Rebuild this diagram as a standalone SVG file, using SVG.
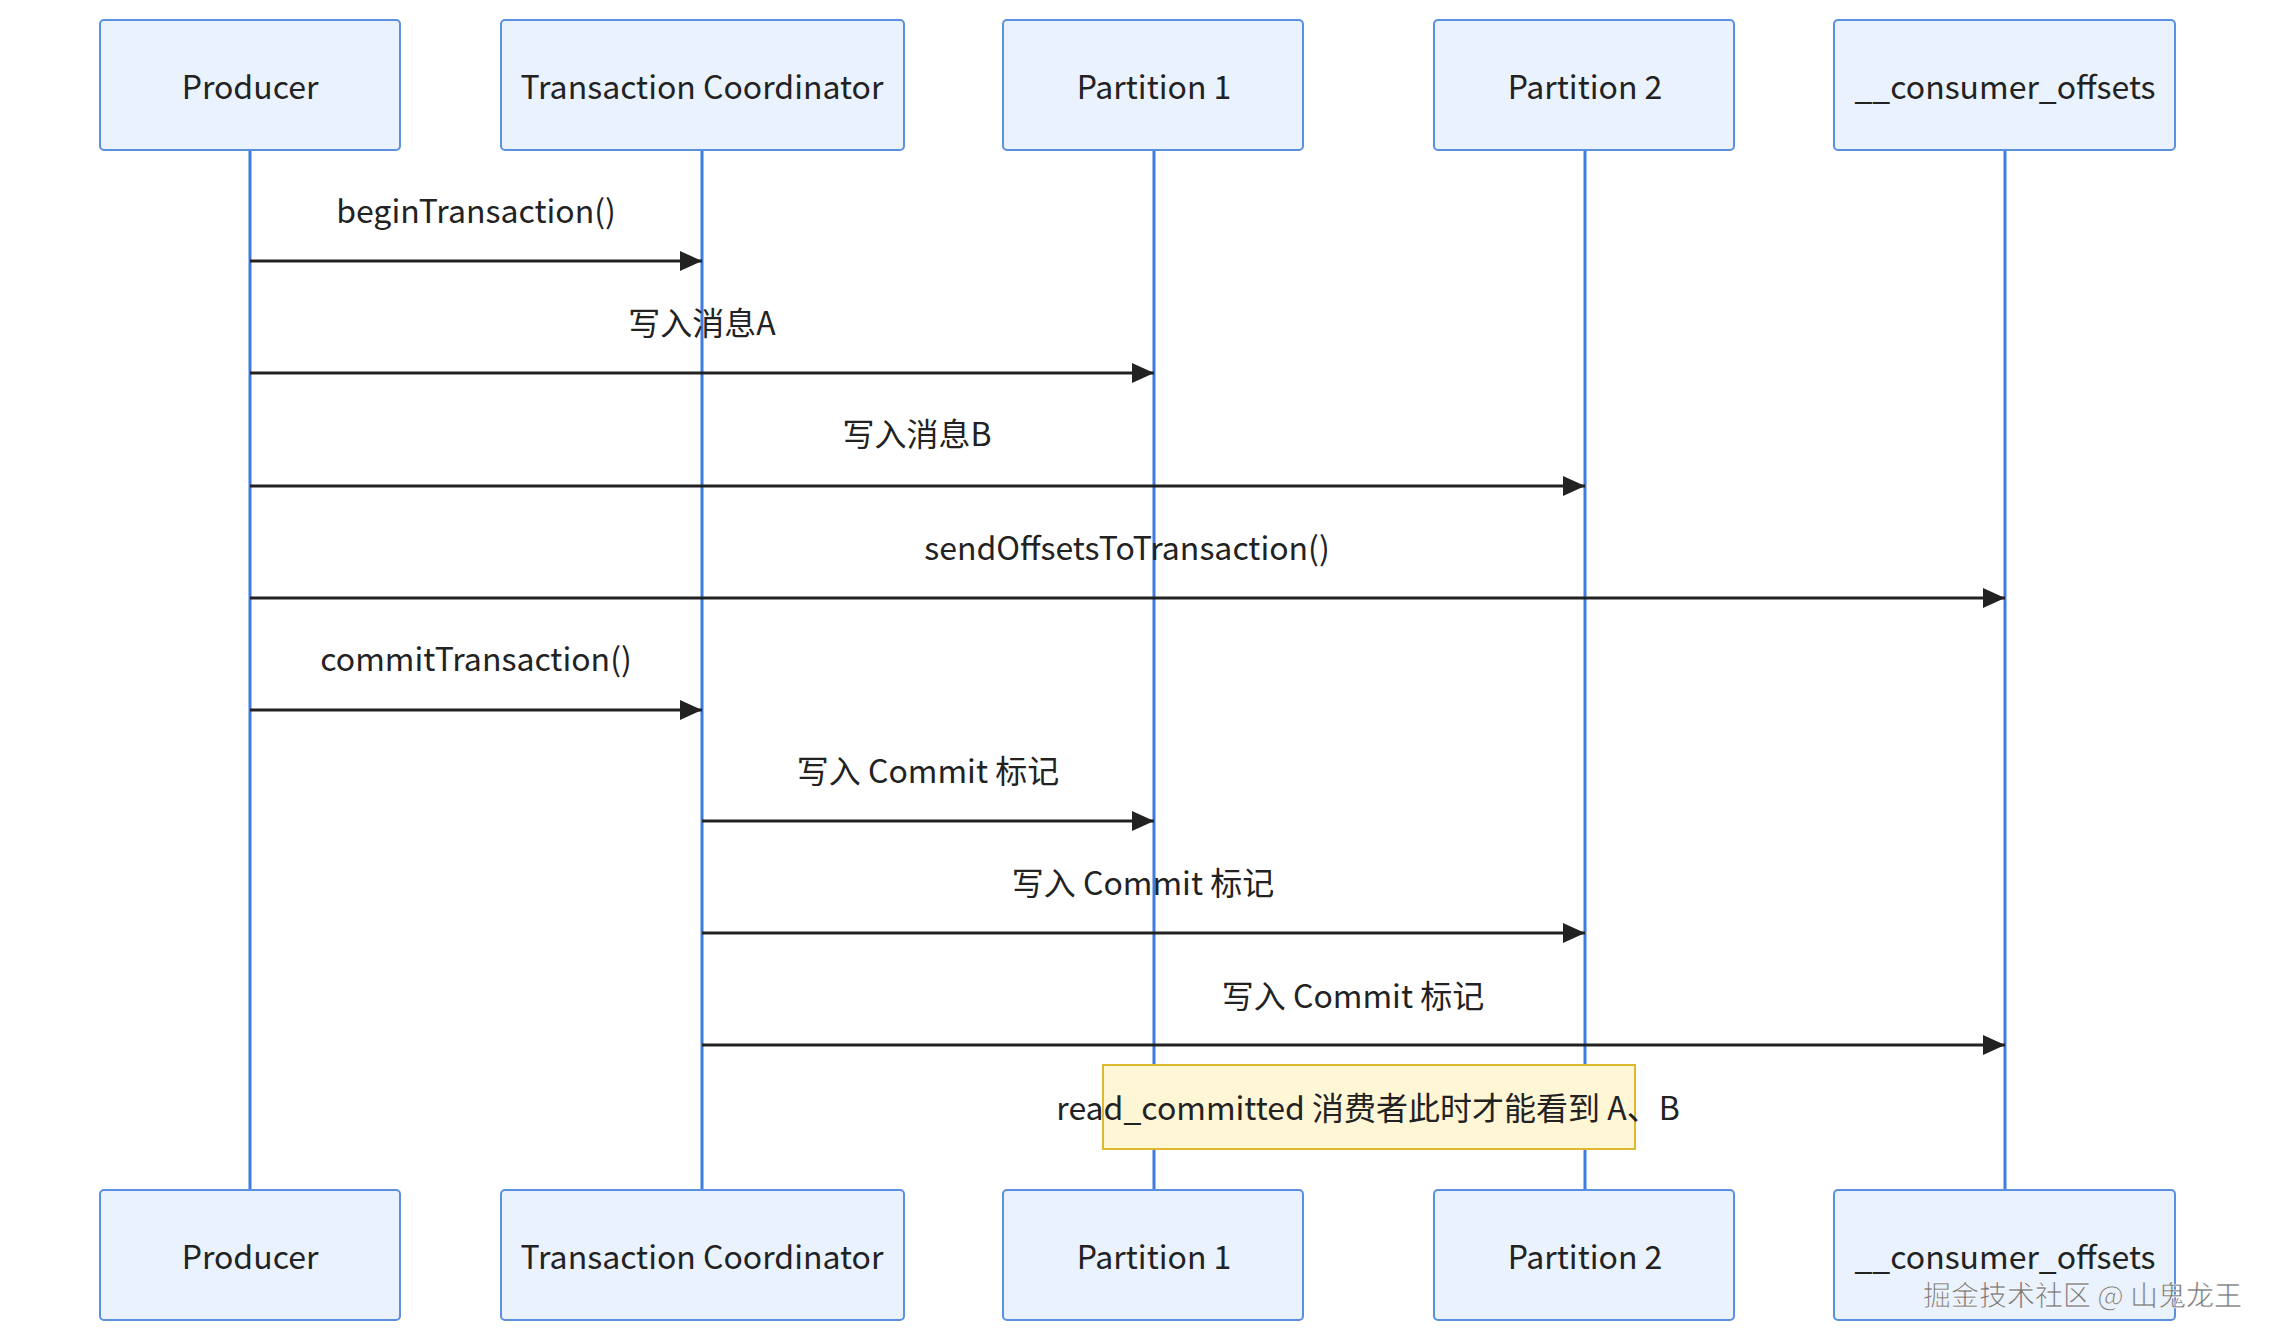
<svg xmlns="http://www.w3.org/2000/svg" width="2274" height="1342" viewBox="0 0 2274 1342">
<defs>
<marker id="a2" markerWidth="24" markerHeight="20" refX="22" refY="10" orient="auto" markerUnits="userSpaceOnUse"><path d="M0,0 L22,10 L0,20 z" fill="#222"/></marker>
<style>
.box{fill:#eaf2fe;stroke:#5b8fe0;stroke-width:2}
.ll{stroke:#3f7be0;stroke-width:3}
.t{font-family:"Noto Sans CJK SC","Noto Sans",sans-serif;font-size:32px;fill:#222;text-anchor:middle;dominant-baseline:central}
.m{stroke:#222;stroke-width:3;fill:none;marker-end:url(#a2)}
</style>
</defs>
<g id="lifelines">
<line class="ll" x1="250" y1="150" x2="250" y2="1190"/>
<line class="ll" x1="702" y1="150" x2="702" y2="1190"/>
<line class="ll" x1="1154" y1="150" x2="1154" y2="1190"/>
<line class="ll" x1="1585" y1="150" x2="1585" y2="1190"/>
<line class="ll" x1="2005" y1="150" x2="2005" y2="1190"/>
</g>
<g id="producer-top"><rect class="box" x="100" y="20" width="300" height="130" rx="4"/><text class="t" x="250" y="85">Producer</text></g>
<g id="tc-top"><rect class="box" x="501" y="20" width="403" height="130" rx="4"/><text class="t" x="702" y="85">Transaction Coordinator</text></g>
<g id="p1-top"><rect class="box" x="1003" y="20" width="300" height="130" rx="4"/><text class="t" x="1154" y="85">Partition 1</text></g>
<g id="p2-top"><rect class="box" x="1434" y="20" width="300" height="130" rx="4"/><text class="t" x="1585" y="85">Partition 2</text></g>
<g id="co-top"><rect class="box" x="1834" y="20" width="341" height="130" rx="4"/><text class="t" x="2005" y="85">__consumer_offsets</text></g>
<g id="producer-bot"><rect class="box" x="100" y="1190" width="300" height="130" rx="4"/><text class="t" x="250" y="1255">Producer</text></g>
<g id="tc-bot"><rect class="box" x="501" y="1190" width="403" height="130" rx="4"/><text class="t" x="702" y="1255">Transaction Coordinator</text></g>
<g id="p1-bot"><rect class="box" x="1003" y="1190" width="300" height="130" rx="4"/><text class="t" x="1154" y="1255">Partition 1</text></g>
<g id="p2-bot"><rect class="box" x="1434" y="1190" width="300" height="130" rx="4"/><text class="t" x="1585" y="1255">Partition 2</text></g>
<g id="co-bot"><rect class="box" x="1834" y="1190" width="341" height="130" rx="4"/><text class="t" x="2005" y="1255">__consumer_offsets</text></g>
<g id="connectors">
<line class="m" x1="250" y1="261" x2="702" y2="261"/>
<text class="t" x="476" y="209">beginTransaction()</text>
<line class="m" x1="250" y1="373" x2="1154" y2="373"/>
<text class="t" x="702" y="321">写入消息A</text>
<line class="m" x1="250" y1="486" x2="1585" y2="486"/>
<text class="t" x="917" y="432">写入消息B</text>
<line class="m" x1="250" y1="598" x2="2005" y2="598"/>
<text class="t" x="1127" y="546">sendOffsetsToTransaction()</text>
<line class="m" x1="250" y1="710" x2="702" y2="710"/>
<text class="t" x="476" y="657">commitTransaction()</text>
<line class="m" x1="702" y1="821" x2="1154" y2="821"/>
<text class="t" x="928" y="769">写入 Commit 标记</text>
<line class="m" x1="702" y1="933" x2="1585" y2="933"/>
<text class="t" x="1143" y="881">写入 Commit 标记</text>
<line class="m" x1="702" y1="1045" x2="2005" y2="1045"/>
<text class="t" x="1353" y="994">写入 Commit 标记</text>
</g>
<g id="note">
<rect x="1103" y="1065" width="532" height="84" fill="#fff6d6" stroke="#e0b830" stroke-width="2"/>
<text class="t" x="1368" y="1106">read_committed 消费者此时才能看到 A、B</text>
</g>
<text x="2242" y="1294" font-family="Noto Sans CJK SC,sans-serif" font-size="28" fill="#777" stroke="#fff" stroke-width="0.6" text-anchor="end" dominant-baseline="central">掘金技术社区 @ 山鬼龙王</text>
</svg>
